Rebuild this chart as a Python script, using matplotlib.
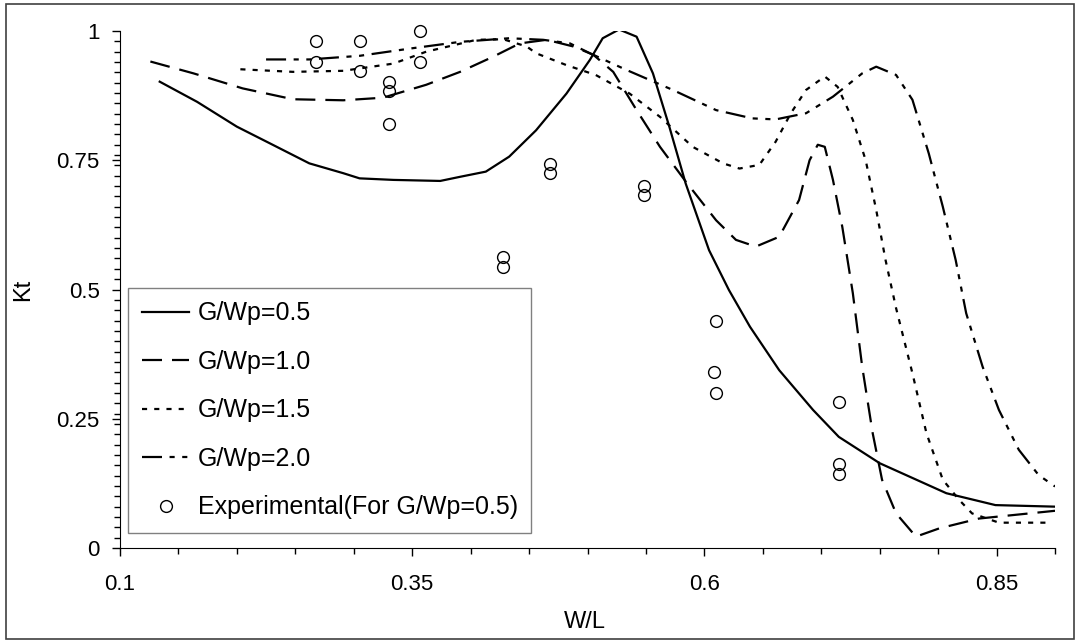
import numpy as np
import matplotlib.pyplot as plt
from matplotlib.ticker import FixedLocator, MultipleLocator, FuncFormatter
from matplotlib.patches import Rectangle

plt.rcParams['font.family'] = ['Liberation Sans', 'DejaVu Sans']

# G/Wp = 0.5
x05 = [0.134, 0.166, 0.200, 0.228, 0.262, 0.291, 0.305, 0.334, 0.374, 0.391, 0.413,
       0.433, 0.456, 0.482, 0.502, 0.513, 0.527, 0.542, 0.556, 0.570, 0.584, 0.604,
       0.621, 0.639, 0.664, 0.693, 0.715, 0.750, 0.807, 0.849, 0.900]
y05 = [0.902, 0.863, 0.815, 0.783, 0.744, 0.725, 0.715, 0.712, 0.710, 0.718, 0.728,
       0.757, 0.808, 0.879, 0.944, 0.986, 1.003, 0.989, 0.918, 0.815, 0.705, 0.576,
       0.499, 0.428, 0.344, 0.267, 0.215, 0.164, 0.106, 0.083, 0.080]

# G/Wp = 1.0
x10 = [0.126, 0.163, 0.205, 0.248, 0.291, 0.325, 0.362, 0.391, 0.419, 0.442, 0.465,
       0.488, 0.505, 0.522, 0.542, 0.562, 0.584, 0.610, 0.627, 0.644, 0.664, 0.681,
       0.690, 0.697, 0.703, 0.710, 0.718, 0.727, 0.735, 0.744, 0.752, 0.764, 0.781,
       0.801, 0.835, 0.900]
y10 = [0.941, 0.918, 0.889, 0.868, 0.866, 0.871, 0.896, 0.921, 0.950, 0.976, 0.983,
       0.970, 0.954, 0.921, 0.847, 0.776, 0.709, 0.634, 0.596, 0.583, 0.602, 0.673,
       0.750, 0.780, 0.776, 0.712, 0.621, 0.493, 0.351, 0.222, 0.132, 0.067, 0.022,
       0.038, 0.057, 0.072]

# G/Wp = 1.5
x15 = [0.203, 0.248, 0.291, 0.334, 0.362, 0.405, 0.428, 0.448, 0.456, 0.482, 0.507,
       0.536, 0.562, 0.590, 0.616, 0.630, 0.647, 0.661, 0.674, 0.687, 0.703, 0.714,
       0.727, 0.738, 0.747, 0.755, 0.764, 0.778, 0.790, 0.804, 0.818, 0.829, 0.852,
       0.895]
y15 = [0.926, 0.921, 0.923, 0.937, 0.960, 0.983, 0.984, 0.970, 0.957, 0.934, 0.915,
       0.879, 0.834, 0.776, 0.744, 0.734, 0.741, 0.786, 0.841, 0.886, 0.912, 0.892,
       0.828, 0.750, 0.654, 0.557, 0.464, 0.338, 0.222, 0.132, 0.093, 0.067, 0.049,
       0.049]

# G/Wp = 2.0
x20 = [0.225, 0.262, 0.305, 0.348, 0.391, 0.433, 0.462, 0.485, 0.502, 0.533, 0.573,
       0.610, 0.641, 0.661, 0.687, 0.710, 0.735, 0.747, 0.764, 0.778, 0.792, 0.804,
       0.815, 0.824, 0.838, 0.852, 0.869, 0.886, 0.900]
y20 = [0.945, 0.945, 0.952, 0.966, 0.979, 0.986, 0.983, 0.976, 0.957, 0.925, 0.886,
       0.847, 0.831, 0.829, 0.841, 0.873, 0.918, 0.931, 0.915, 0.867, 0.763, 0.660,
       0.557, 0.454, 0.351, 0.267, 0.190, 0.141, 0.119]

# experimental points (G/Wp = 0.5)
x_exp = [0.268, 0.268, 0.305, 0.305, 0.330, 0.330, 0.330, 0.357, 0.357, 0.428, 0.428,
         0.468, 0.468, 0.548, 0.548, 0.610, 0.608, 0.610, 0.715, 0.715, 0.715]
y_exp = [0.980, 0.940, 0.980, 0.923, 0.902, 0.883, 0.820, 1.000, 0.940, 0.563, 0.544,
         0.743, 0.726, 0.700, 0.683, 0.440, 0.340, 0.300, 0.282, 0.163, 0.144]

fig = plt.figure(figsize=(10.77, 6.42), dpi=100)
ax = fig.add_axes([0.1114, 0.1464, 0.8682, 0.8053])

lw = 1.6
ax.plot(x05, y05, color='black', lw=lw, label='G/Wp=0.5')
ax.plot(x10, y10, color='black', lw=lw, dashes=[9.0, 4.5], label='G/Wp=1.0')
ax.plot(x15, y15, color='black', lw=lw, dashes=[2.3, 3.2], label='G/Wp=1.5')
ax.plot(x20, y20, color='black', lw=lw, dashes=[9.0, 3.4, 2.3, 3.4, 2.3, 3.4], label='G/Wp=2.0')
ax.plot(x_exp, y_exp, linestyle='none', marker='o', markersize=8.5, markerfacecolor='none',
        markeredgecolor='black', markeredgewidth=1.0, clip_on=False,
        label='Experimental(For G/Wp=0.5)')

ax.set_xlim(0.1, 0.9)
ax.set_ylim(0, 1)
ax.spines['top'].set_visible(False)
ax.spines['right'].set_visible(False)
ax.xaxis.set_major_locator(FixedLocator([0.1, 0.35, 0.6, 0.85]))
ax.xaxis.set_minor_locator(MultipleLocator(0.05))
ax.yaxis.set_major_locator(FixedLocator([0, 0.25, 0.5, 0.75, 1.0]))
ax.yaxis.set_minor_locator(MultipleLocator(0.02))
fmt = FuncFormatter(lambda v, p: '%g' % round(v, 3))
ax.xaxis.set_major_formatter(fmt)
ax.yaxis.set_major_formatter(fmt)
ax.tick_params(which='major', direction='out', length=5.5, width=1, labelsize=16)
ax.tick_params(which='minor', direction='out', length=4, width=1)
ax.tick_params(axis='x', which='major', pad=13)
ax.tick_params(axis='y', which='major', pad=9)

ax.set_xlabel('W/L', fontsize=17)
ax.set_ylabel('Kt', fontsize=17)
ax.xaxis.set_label_coords(0.497, -0.122)
ax.yaxis.set_label_coords(-0.092, 0.5)

leg = ax.legend(loc='lower left', bbox_to_anchor=(0.0086, 0.029), fontsize=18,
                frameon=True, fancybox=False, edgecolor='#808080', framealpha=1,
                handlelength=1.9, handletextpad=0.33, labelspacing=0.98,
                borderpad=0.55, borderaxespad=0)
leg.get_frame().set_linewidth(1.0)

fig.patches.append(Rectangle((0.006, 0.004), 0.991, 0.99, transform=fig.transFigure,
                             fill=False, edgecolor='#404040', lw=1.2))

fig.savefig('out.png', dpi=100)
